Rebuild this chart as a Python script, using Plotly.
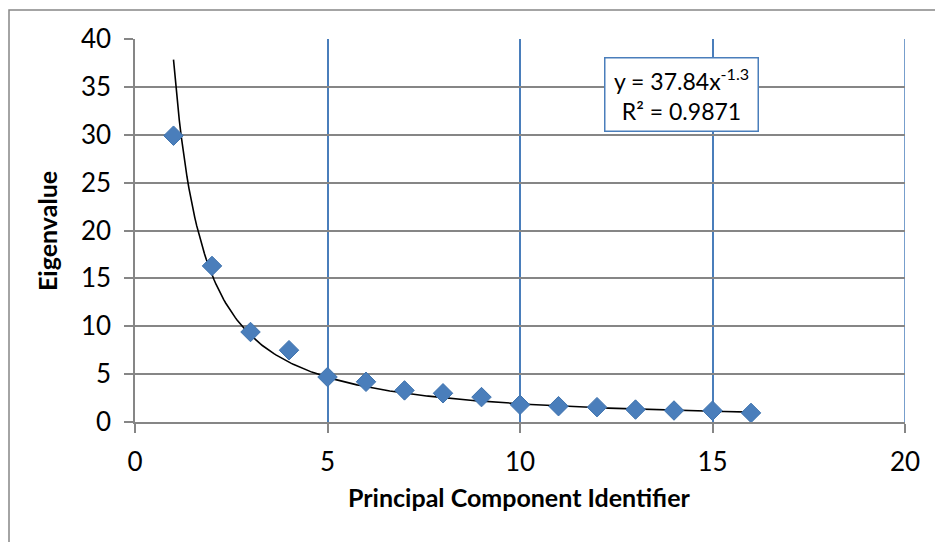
import numpy as np
import plotly.graph_objects as go

# Eigenvalue of each principal component
component = [1, 2, 3, 4, 5, 6, 7, 8, 9, 10, 11, 12, 13, 14, 15, 16]
eigenvalue = [29.9, 16.3, 9.4, 7.5, 4.7, 4.2, 3.3, 3.0, 2.6, 1.8, 1.65, 1.55, 1.3, 1.2, 1.18, 0.95]

# Power-law trendline y = a * x^b
fit_a = 37.84
fit_b = -1.3
fit_r2 = 0.9871

x_ticks = [0, 5, 10, 15, 20]
y_ticks = [0, 5, 10, 15, 20, 25, 30, 35, 40]

FONT = "Lato, 'DejaVu Sans', sans-serif"
BLUE = "#4A7EBB"
GRAY = "#868686"

W, H = 935, 542
L, R, T, B = 135, 30, 39, 120
pw, ph = W - L - R, H - T - B


def px_x(px):
    return (px - L) / pw


def px_y(py):
    return (H - B - py) / ph


fit_x = np.linspace(component[0], component[-1], 300)
fit_y = fit_a * fit_x ** fit_b

fig = go.Figure()
fig.add_trace(go.Scatter(
    x=fit_x, y=fit_y, mode="lines",
    line=dict(color="black", width=1.6),
    hoverinfo="skip", showlegend=False,
))
fig.add_trace(go.Scatter(
    x=component, y=eigenvalue, mode="markers",
    marker=dict(symbol="diamond", size=15, color=BLUE,
                line=dict(color="#3F73AE", width=1)),
    showlegend=False,
))

fig.update_layout(
    width=W, height=H,
    margin=dict(l=L, r=R, t=T, b=B),
    paper_bgcolor="white", plot_bgcolor="white",
    font=dict(family=FONT, size=26, color="black"),
    xaxis=dict(
        range=[0, 20], tickvals=x_ticks, ticktext=[str(v) for v in x_ticks],
        showgrid=True, gridcolor=BLUE, gridwidth=1.5,
        showline=True, linecolor=GRAY, linewidth=1.5,
        ticks="outside", ticklen=9, tickcolor=GRAY, tickwidth=1.5,
        ticklabelstandoff=7, zeroline=False,
        tickfont=dict(size=26),
    ),
    yaxis=dict(
        range=[0, 40], tickvals=y_ticks, ticktext=[str(v) for v in y_ticks],
        showgrid=True, gridcolor=GRAY, gridwidth=1.5,
        showline=True, linecolor=GRAY, linewidth=1.5,
        ticks="outside", ticklen=9, tickcolor=GRAY, tickwidth=1.5,
        ticklabelstandoff=8, zeroline=False,
        tickfont=dict(size=26),
    ),
    shapes=[
        # chart-area frame
        dict(type="rect", xref="paper", yref="paper",
             x0=px_x(9), x1=px_x(W + 20), y0=px_y(H + 20), y1=px_y(10),
             line=dict(color=GRAY, width=1.5), fillcolor="rgba(0,0,0,0)",
             layer="below"),
        # vertical gridline at the right end of the x range
        dict(type="line", xref="x", yref="paper",
             x0=x_ticks[-1], x1=x_ticks[-1], y0=0, y1=1,
             line=dict(color=BLUE, width=1.5), layer="below"),
    ],
    annotations=[
        dict(text="<b>Eigenvalue</b>", xref="paper", yref="paper",
             x=px_x(47), y=px_y(231), textangle=-90, showarrow=False,
             font=dict(size=25), xanchor="center", yanchor="middle"),
        dict(text="<b>Principal Component Identifier</b>", xref="paper", yref="paper",
             x=px_x(519), y=px_y(497), showarrow=False,
             font=dict(size=25), xanchor="center", yanchor="middle"),
        dict(text=f"y = {fit_a}x<sup>{fit_b}</sup><br>R² = {fit_r2}",
             xref="paper", yref="paper", x=px_x(681), y=px_y(94),
             showarrow=False, font=dict(size=23), align="center",
             xanchor="center", yanchor="middle",
             width=150, height=70, bgcolor="white",
             bordercolor=BLUE, borderwidth=1.5, borderpad=1),
    ],
)

fig.write_html("out.html")
